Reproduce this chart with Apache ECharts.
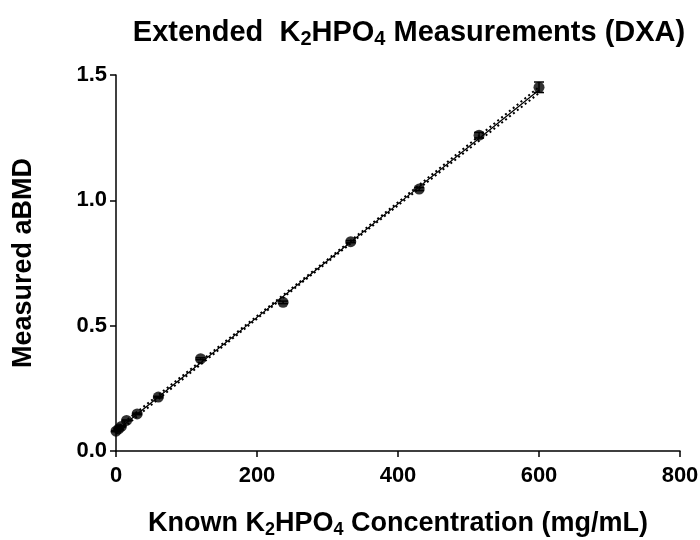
<!DOCTYPE html>
<html>
<head>
<meta charset="utf-8">
<script src="https://cdn.jsdelivr.net/npm/echarts@6/dist/echarts.min.js"></script>
<style>
  html, body { margin: 0; padding: 0; background: #fff; }
  #chart { width: 700px; height: 540px; }
</style>
</head>
<body>
<div id="chart"></div>
<script>
// known concentration (mg/mL) and measured aBMD
var conc = [0, 3.75, 7.5, 15, 30, 60, 120, 237, 333, 430, 515, 600];
var bmd = [0.079, 0.088, 0.098, 0.122, 0.148, 0.215, 0.368, 0.593, 0.835, 1.045, 1.260, 1.451];
var sd = [0.002, 0.002, 0.002, 0.002, 0.003, 0.003, 0.004, 0.005, 0.004, 0.006, 0.011, 0.021];

// linear fit and 95% band
var fitX = [0, 100, 200, 300, 400, 500, 600];
var fitY = [0.079, 0.306, 0.533, 0.759, 0.986, 1.213, 1.440];
var ciHigh = [0.089, 0.313, 0.538, 0.764, 0.992, 1.222, 1.452];
var ciLow = [0.069, 0.299, 0.528, 0.754, 0.980, 1.204, 1.428];

var xTicks = [0, 200, 400, 600, 800];
var yTicks = [0, 0.5, 1.0, 1.5];

var myChart = echarts.init(document.getElementById('chart'));
var font = 'Liberation Sans, Arial, sans-serif';

function pairs(xs, ys) {
    var out = [];
    for (var i = 0; i < xs.length; i++) out.push([xs[i], ys[i]]);
    return out;
}

var errData = [];
for (var i = 0; i < conc.length; i++) {
    errData.push([conc[i], bmd[i] - sd[i], bmd[i] + sd[i]]);
}

// rich styles for the subscripts
function richSet(size) {
    return {
        b: { fontSize: size, fontWeight: 'bold', fontFamily: font, color: '#000' },
        s: { fontSize: Math.round(size * 0.68), fontWeight: 'bold', fontFamily: font, color: '#000',
             padding: [Math.round(size * 0.45), 0, 0, 0] }
    };
}

var option = {
    animation: false,
    backgroundColor: '#fff',
    title: {
        text: '{b|Extended  K}{s|2}{b|HPO}{s|4}{b| Measurements (DXA)}',
        left: 404,
        top: 11,
        textAlign: 'center',
        textStyle: { rich: richSet(29) }
    },
    grid: { left: 116, right: 20, top: 75, bottom: 89, containLabel: false, outerBoundsMode: 'none' },
    xAxis: {
        type: 'value',
        min: 0,
        max: 800,
        interval: 200,
        name: '{b|Known K}{s|2}{b|HPO}{s|4}{b| Concentration (mg/mL)}',
        nameLocation: 'middle',
        nameGap: 58,
        nameTextStyle: { rich: richSet(27) },
        axisLine: { show: true, onZero: false, lineStyle: { color: '#000', width: 1.5 } },
        axisTick: { show: true, length: 6, lineStyle: { color: '#000', width: 1.5 } },
        axisLabel: {
            margin: 14,
            color: '#000',
            fontSize: 22,
            fontWeight: 'bold',
            fontFamily: font,
            formatter: function (v) { return xTicks.indexOf(v) >= 0 ? String(v) : ''; }
        },
        splitLine: { show: false }
    },
    yAxis: {
        type: 'value',
        min: 0,
        max: 1.5,
        interval: 0.5,
        name: 'Measured aBMD',
        nameLocation: 'middle',
        nameRotate: 90,
        nameGap: 79,
        nameTextStyle: { color: '#000', fontSize: 27, fontWeight: 'bold', fontFamily: font },
        axisLine: { show: true, onZero: false, lineStyle: { color: '#000', width: 1.5 } },
        axisTick: { show: true, length: 6, lineStyle: { color: '#000', width: 1.5 } },
        axisLabel: {
            margin: 9,
            color: '#000',
            fontSize: 22,
            fontWeight: 'bold',
            fontFamily: font,
            formatter: function (v) { return yTicks.indexOf(v) >= 0 ? v.toFixed(1) : ''; }
        },
        splitLine: { show: false }
    },
    series: [
        {
            name: 'upper',
            type: 'line',
            data: pairs(fitX, ciHigh),
            symbol: 'none',
            lineStyle: { color: '#000', width: 2, type: [2, 3] },
            z: 2
        },
        {
            name: 'lower',
            type: 'line',
            data: pairs(fitX, ciLow),
            symbol: 'none',
            lineStyle: { color: '#000', width: 2, type: [2, 3] },
            z: 2
        },
        {
            name: 'fit',
            type: 'line',
            data: pairs(fitX, fitY),
            symbol: 'none',
            lineStyle: { color: '#000', width: 1.2 },
            z: 3
        },
        {
            name: 'sd',
            type: 'custom',
            data: errData,
            renderItem: function (params, api) {
                var x = api.value(0);
                var lo = api.coord([x, api.value(1)]);
                var hi = api.coord([x, api.value(2)]);
                var w = 5;
                var st = { stroke: '#000', lineWidth: 1.5 };
                return {
                    type: 'group',
                    children: [
                        { type: 'line', shape: { x1: lo[0], y1: lo[1], x2: hi[0], y2: hi[1] }, style: st },
                        { type: 'line', shape: { x1: hi[0] - w, y1: hi[1], x2: hi[0] + w, y2: hi[1] }, style: st },
                        { type: 'line', shape: { x1: lo[0] - w, y1: lo[1], x2: lo[0] + w, y2: lo[1] }, style: st }
                    ]
                };
            },
            z: 4
        },
        {
            name: 'aBMD',
            type: 'scatter',
            data: pairs(conc, bmd),
            symbol: 'circle',
            symbolSize: 11,
            itemStyle: { color: '#000' },
            z: 5
        }
    ]
};

myChart.setOption(option);
</script>
</body>
</html>
